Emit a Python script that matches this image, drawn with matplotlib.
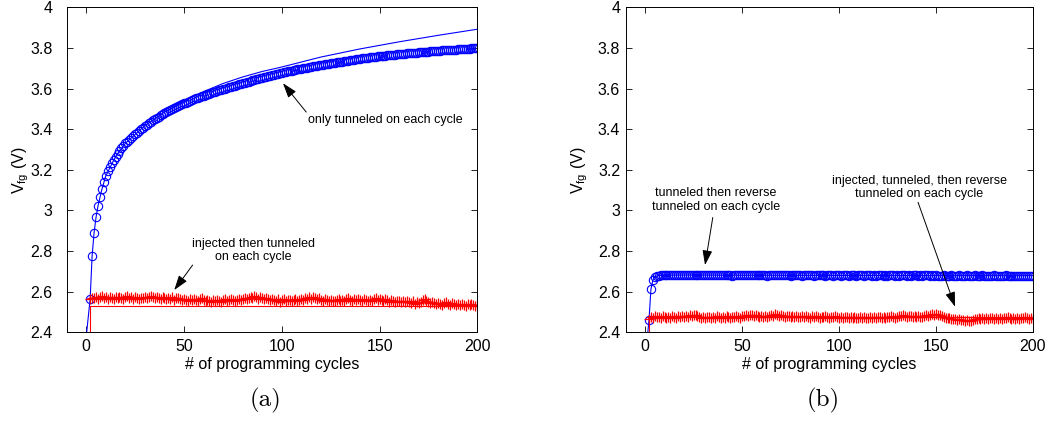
import numpy as np
import matplotlib
matplotlib.use('Agg')
import matplotlib.pyplot as plt
from matplotlib.ticker import FuncFormatter

plt.rcParams['font.family'] = ['Liberation Sans', 'DejaVu Sans']
plt.rcParams['mathtext.fontset'] = 'custom'
plt.rcParams['mathtext.rm'] = 'Liberation Sans'

# ---- (a) only tunneled / injected then tunneled ----
cyc = np.arange(2, 201)

a_tun = [2.565, 2.777, 2.890, 2.966, 3.022, 3.066, 3.104, 3.138, 3.170,
         3.192, 3.212, 3.231, 3.249, 3.265, 3.279, 3.292, 3.305, 3.318, 3.330,
         3.339, 3.348, 3.357, 3.366, 3.375, 3.383, 3.391, 3.399, 3.407, 3.415,
         3.422, 3.429, 3.436, 3.443, 3.450, 3.456, 3.462, 3.468, 3.474, 3.480,
         3.485, 3.490, 3.495, 3.500, 3.505, 3.509, 3.514, 3.518, 3.523, 3.527,
         3.531, 3.535, 3.539, 3.543, 3.547, 3.551, 3.555, 3.558, 3.562, 3.565,
         3.568, 3.572, 3.575, 3.578, 3.582, 3.585, 3.588, 3.591, 3.594, 3.597,
         3.600, 3.603, 3.606, 3.609, 3.612, 3.614, 3.617, 3.620, 3.623, 3.626,
         3.629, 3.632, 3.634, 3.637, 3.640, 3.642, 3.645, 3.648, 3.650, 3.653,
         3.656, 3.658, 3.661, 3.663, 3.666, 3.668, 3.671, 3.673, 3.676, 3.678,
         3.680, 3.682, 3.684, 3.686, 3.688, 3.690, 3.692, 3.694, 3.696, 3.698,
         3.700, 3.702, 3.703, 3.705, 3.707, 3.709, 3.710, 3.712, 3.714, 3.715,
         3.717, 3.719, 3.720, 3.722, 3.724, 3.725, 3.727, 3.729, 3.730, 3.732,
         3.733, 3.735, 3.736, 3.738, 3.739, 3.741, 3.742, 3.744, 3.745, 3.747,
         3.748, 3.749, 3.750, 3.752, 3.753, 3.754, 3.755, 3.756, 3.758, 3.759,
         3.760, 3.761, 3.762, 3.763, 3.764, 3.765, 3.766, 3.767, 3.768, 3.769,
         3.770, 3.771, 3.772, 3.773, 3.774, 3.775, 3.776, 3.777, 3.777, 3.778,
         3.779, 3.780, 3.781, 3.782, 3.782, 3.783, 3.784, 3.785, 3.785, 3.786,
         3.787, 3.788, 3.788, 3.789, 3.790, 3.790, 3.791, 3.792, 3.792, 3.793,
         3.794, 3.794, 3.795, 3.796, 3.796, 3.797, 3.798, 3.798, 3.799, 3.800]

a_inj = [2.566, 2.571, 2.568, 2.574, 2.566, 2.572, 2.577, 2.569, 2.573,
         2.566, 2.575, 2.570, 2.564, 2.572, 2.567, 2.576, 2.569, 2.565, 2.573,
         2.578, 2.568, 2.572, 2.565, 2.574, 2.569, 2.563, 2.571, 2.567, 2.575,
         2.570, 2.576, 2.581, 2.572, 2.568, 2.575, 2.570, 2.566, 2.573, 2.567,
         2.563, 2.570, 2.565, 2.572, 2.561, 2.567, 2.571, 2.562, 2.558, 2.566,
         2.560, 2.556, 2.563, 2.558, 2.566, 2.560, 2.555, 2.562, 2.570, 2.559,
         2.553, 2.560, 2.556, 2.549, 2.557, 2.553, 2.560, 2.555, 2.551, 2.558,
         2.562, 2.555, 2.559, 2.564, 2.557, 2.553, 2.561, 2.566, 2.560, 2.565,
         2.569, 2.563, 2.571, 2.575, 2.567, 2.580, 2.572, 2.566, 2.574, 2.568,
         2.562, 2.570, 2.564, 2.559, 2.566, 2.560, 2.556, 2.563, 2.548, 2.558,
         2.562, 2.555, 2.561, 2.557, 2.552, 2.559, 2.563, 2.556, 2.560, 2.566,
         2.561, 2.568, 2.563, 2.572, 2.566, 2.574, 2.567, 2.562, 2.569, 2.560,
         2.556, 2.563, 2.558, 2.554, 2.561, 2.556, 2.552, 2.559, 2.563, 2.555,
         2.560, 2.556, 2.562, 2.567, 2.559, 2.555, 2.563, 2.558, 2.565, 2.560,
         2.556, 2.562, 2.557, 2.553, 2.560, 2.556, 2.563, 2.567, 2.561, 2.566,
         2.560, 2.555, 2.562, 2.557, 2.551, 2.558, 2.553, 2.549, 2.556, 2.552,
         2.547, 2.554, 2.549, 2.556, 2.551, 2.546, 2.553, 2.540, 2.548, 2.543,
         2.550, 2.558, 2.562, 2.554, 2.548, 2.543, 2.550, 2.545, 2.539, 2.546,
         2.541, 2.536, 2.543, 2.548, 2.539, 2.534, 2.542, 2.537, 2.532, 2.540,
         2.535, 2.541, 2.536, 2.531, 2.538, 2.534, 2.540, 2.535, 2.531, 2.533]

# model curves
a_fit_x = [0, 2, 3, 4, 5, 6, 8, 10, 15, 20, 30, 40, 50, 60, 70, 80, 90, 100,
           120, 140, 160, 180, 200]
a_fit_y = [2.38, 2.565, 2.777, 2.890, 2.966, 3.022, 3.104, 3.170, 3.265, 3.330,
           3.418, 3.484, 3.540, 3.585, 3.625, 3.657, 3.684, 3.706,
           3.755, 3.795, 3.830, 3.862, 3.892]
a_step_x = [2, 2, 200]
a_step_y = [2.30, 2.531, 2.531]

# ---- (b) tunneled then reverse tunneled / injected, tunneled, reverse ----
b_rev = [2.462, 2.612, 2.657, 2.672, 2.677, 2.679, 2.680, 2.681, 2.681,
         2.682, 2.683, 2.683, 2.684, 2.683, 2.684, 2.683, 2.682, 2.683, 2.682,
         2.683, 2.682, 2.681, 2.682, 2.683, 2.682, 2.681, 2.682, 2.681, 2.680,
         2.681, 2.680, 2.681, 2.682, 2.681, 2.680, 2.681, 2.680, 2.681, 2.682,
         2.681, 2.680, 2.681, 2.680, 2.679, 2.680, 2.681, 2.680, 2.681, 2.680,
         2.681, 2.682, 2.681, 2.680, 2.681, 2.680, 2.681, 2.682, 2.681, 2.680,
         2.681, 2.680, 2.679, 2.680, 2.681, 2.680, 2.681, 2.682, 2.681, 2.680,
         2.681, 2.680, 2.681, 2.680, 2.679, 2.680, 2.681, 2.680, 2.681, 2.680,
         2.679, 2.680, 2.681, 2.680, 2.681, 2.680, 2.679, 2.680, 2.681, 2.680,
         2.681, 2.680, 2.679, 2.680, 2.681, 2.680, 2.679, 2.680, 2.681, 2.680,
         2.679, 2.680, 2.681, 2.680, 2.679, 2.680, 2.681, 2.680, 2.679, 2.680,
         2.681, 2.680, 2.679, 2.680, 2.681, 2.680, 2.679, 2.680, 2.679, 2.680,
         2.681, 2.680, 2.679, 2.680, 2.679, 2.680, 2.681, 2.680, 2.679, 2.680,
         2.679, 2.680, 2.681, 2.680, 2.679, 2.680, 2.679, 2.680, 2.681, 2.680,
         2.679, 2.680, 2.679, 2.680, 2.681, 2.680, 2.679, 2.680, 2.679, 2.680,
         2.679, 2.678, 2.679, 2.680, 2.679, 2.678, 2.679, 2.680, 2.679, 2.678,
         2.679, 2.680, 2.679, 2.678, 2.679, 2.680, 2.679, 2.678, 2.679, 2.680,
         2.679, 2.678, 2.679, 2.680, 2.679, 2.678, 2.679, 2.678, 2.679, 2.680,
         2.679, 2.678, 2.679, 2.678, 2.679, 2.680, 2.679, 2.678, 2.679, 2.678,
         2.679, 2.678, 2.679, 2.678, 2.679, 2.678, 2.679, 2.678, 2.679, 2.678]

b_inj = [2.466, 2.476, 2.471, 2.479, 2.473, 2.477, 2.470, 2.478, 2.474,
         2.469, 2.477, 2.472, 2.480, 2.475, 2.470, 2.478, 2.473, 2.479, 2.475,
         2.481, 2.477, 2.484, 2.480, 2.487, 2.483, 2.478, 2.474, 2.470, 2.476,
         2.471, 2.477, 2.473, 2.469, 2.476, 2.472, 2.478, 2.474, 2.470, 2.476,
         2.472, 2.478, 2.474, 2.470, 2.477, 2.473, 2.479, 2.475, 2.471, 2.478,
         2.482, 2.486, 2.481, 2.487, 2.483, 2.479, 2.485, 2.480, 2.476, 2.482,
         2.477, 2.481, 2.476, 2.482, 2.486, 2.481, 2.488, 2.483, 2.479, 2.485,
         2.480, 2.476, 2.482, 2.478, 2.474, 2.480, 2.476, 2.481, 2.477, 2.473,
         2.479, 2.475, 2.480, 2.476, 2.472, 2.478, 2.474, 2.479, 2.475, 2.471,
         2.477, 2.473, 2.479, 2.475, 2.471, 2.477, 2.473, 2.478, 2.474, 2.470,
         2.476, 2.472, 2.477, 2.473, 2.469, 2.475, 2.471, 2.476, 2.472, 2.468,
         2.474, 2.470, 2.476, 2.472, 2.468, 2.474, 2.470, 2.475, 2.471, 2.477,
         2.473, 2.469, 2.475, 2.471, 2.477, 2.473, 2.479, 2.475, 2.471, 2.477,
         2.482, 2.478, 2.484, 2.480, 2.476, 2.482, 2.478, 2.474, 2.480, 2.476,
         2.481, 2.477, 2.473, 2.479, 2.484, 2.480, 2.486, 2.490, 2.485, 2.491,
         2.487, 2.483, 2.478, 2.474, 2.470, 2.472, 2.468, 2.465, 2.467, 2.463,
         2.461, 2.464, 2.459, 2.462, 2.456, 2.460, 2.454, 2.458, 2.462, 2.466,
         2.463, 2.468, 2.465, 2.470, 2.466, 2.471, 2.467, 2.472, 2.468, 2.465,
         2.470, 2.466, 2.471, 2.467, 2.472, 2.468, 2.473, 2.469, 2.465, 2.470,
         2.466, 2.471, 2.467, 2.472, 2.468, 2.473, 2.469, 2.465, 2.470, 2.466]

b_fit_x = [1, 2, 3, 4, 5, 6, 8, 10, 20, 50, 100, 150, 200]
b_fit_y = [2.36, 2.462, 2.612, 2.657, 2.672, 2.677, 2.680, 2.681, 2.682,
           2.681, 2.680, 2.679, 2.679]
b_step_x = [2, 2, 200]
b_step_y = [2.30, 2.473, 2.473]

fig = plt.figure(figsize=(10.57, 4.21), dpi=100)
ax1 = fig.add_axes([0.0631, 0.2107, 0.3885, 0.772])
ax2 = fig.add_axes([0.5920, 0.2107, 0.3851, 0.772])

circ = dict(marker='o', color='b', markerfacecolor='none', markersize=6,
            markeredgewidth=0.8, linestyle='none')
plus = dict(marker='+', color='r', markeredgecolor='r', markersize=7,
            markeredgewidth=0.9, linestyle='none')

ax1.plot(a_fit_x, a_fit_y, color='b', lw=0.8)
ax1.plot(cyc, a_tun, **circ)
ax1.plot(a_step_x, a_step_y, color='r', lw=0.8)
ax1.plot(cyc, a_inj, **plus)

ax2.plot(b_fit_x, b_fit_y, color='b', lw=0.8)
ax2.plot(cyc, b_rev, **circ)
ax2.plot(b_step_x, b_step_y, color='r', lw=0.8)
ax2.plot(cyc, b_inj, **plus)

fmt = FuncFormatter(lambda v, p: '%g' % round(v, 3))
for ax, ypad in ((ax1, 10), (ax2, 4)):
    ax.set_xlim(-10, 200)
    ax.set_ylim(2.4, 4)
    ax.set_xticks([0, 50, 100, 150, 200])
    ax.set_yticks(np.arange(2.4, 4.01, 0.2))
    ax.yaxis.set_major_formatter(fmt)
    ax.tick_params(direction='in', top=True, right=True, length=4, width=0.6,
                   labelsize=11.5)
    ax.tick_params(axis='x', pad=5)
    ax.tick_params(axis='y', pad=ypad)
    for s in ax.spines.values():
        s.set_linewidth(0.7)
    ax.set_xlabel('# of programming cycles', fontsize=11.5, labelpad=2)
    ax.set_ylabel(r'$\mathregular{V_{fg}}$ (V)', fontsize=11.5)
    ax.yaxis.set_label_coords(-0.087, 0.5)

arr = dict(arrowstyle='-|>,head_length=0.9,head_width=0.3', color='k',
           lw=0.7, shrinkA=0, shrinkB=0, mutation_scale=10)

ax1.text(113.3, 3.445, 'only tunneled on each cycle', fontsize=9,
         ha='left', va='center')
ax1.annotate('', xy=(100.6, 3.626), xytext=(112.5, 3.484), arrowprops=arr)
ax1.text(85.6, 2.803, 'injected then tunneled\non each cycle', fontsize=9,
         ha='center', va='center', multialignment='center')
ax1.annotate('', xy=(45.0, 2.608), xytext=(54.4, 2.731), arrowprops=arr)

ax2.text(36.6, 3.051, 'tunneled then reverse\ntunneled on each cycle', fontsize=9,
         ha='center', va='center', multialignment='center')
ax2.annotate('', xy=(30.9, 2.731), xytext=(34.9, 2.965), arrowprops=arr)
ax2.text(141.3, 3.113, 'injected, tunneled, then reverse\ntunneled on each cycle',
         fontsize=9, ha='center', va='center', multialignment='center')
ax2.annotate('', xy=(159.9, 2.526), xytext=(140.8, 3.040), arrowprops=arr)

fig.text(265 / 1057, 1 - 400 / 421, '(a)', fontsize=18, family='cmr10',
         ha='center', va='center')
fig.text(823 / 1057, 1 - 400 / 421, '(b)', fontsize=18, family='cmr10',
         ha='center', va='center')

fig.savefig('out.png', dpi=100)
